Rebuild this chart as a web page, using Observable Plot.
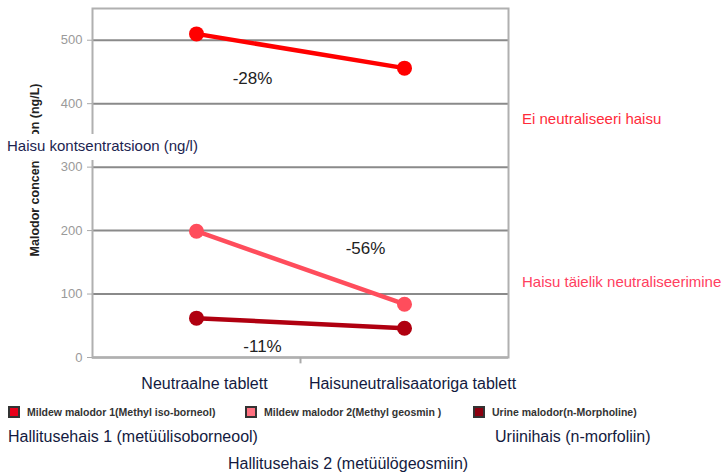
<!DOCTYPE html>
<html>
<head>
<meta charset="utf-8">
<script src="https://cdn.jsdelivr.net/npm/d3@7"></script>
<script src="https://cdn.jsdelivr.net/npm/@observablehq/plot@0.6"></script>
<style>
  html, body { margin: 0; padding: 0; background: #fff; }
  #wrap { position: relative; width: 724px; height: 476px; font-family: "Liberation Sans", Arial, sans-serif; overflow: hidden; }
  #chart { position: absolute; left: 0; top: 0; }
  .abs { position: absolute; white-space: nowrap; }
  .ylab { font-weight: bold; font-size: 12.5px; color: #222; transform-origin: center; transform: translate(-50%, -50%) rotate(-90deg); }
  .cover { background: #fff; font-size: 15px; color: #1c2450; padding: 3px 4px 6px 3px; }
  .side { font-size: 15px; }
  .leg { font-size: 10.5px; font-weight: bold; color: #333; display: flex; align-items: center; }
  .sw { width: 12px; height: 12px; border: 2px solid #333; margin-right: 7px; box-sizing: border-box; }
  .note { font-size: 16px; color: #131a40; }
</style>
</head>
<body>
<div id="wrap">
  <div id="chart"></div>
</div>
<script>
const categories = ["Neutraalne tablett", "Haisuneutralisaatoriga tablett"];
const seriesNames = ["Mildew malodor 1(Methyl iso-borneol)", "Mildew malodor 2(Methyl geosmin )", "Urine malodor(n-Morpholine)"];
const mildew1 = [510, 456];
const mildew2 = [199, 84];
const urine = [62, 46];
const seriesColors = ["#ff0000", "#ff4d5c", "#b00010"];
const legendColors = ["#e8001a", "#ff7080", "#8c0010"];
const yTicks = [0, 100, 200, 300, 400, 500];
const changeLabels = ["-28%", "-56%", "-11%"];
const changeAt = [440, 172, 17];
const changeCat = [categories[0], categories[1], categories[0]];
const yTitle = "Malodor concentration (ng/L)";
const yTitleEt = "Haisu kontsentratsioon (ng/l)";
const sideLabels = ["Ei neutraliseeri haisu", "Haisu täielik neutraliseerimine"];
const noteLabels = ["Hallitusehais 1 (metüülisoborneool)", "Uriinihais (n-morfoliin)", "Hallitusehais 2 (metüülögeosmiin)"];

const values = [mildew1, mildew2, urine];
const rows = [];
seriesNames.forEach((s, si) => categories.forEach((c, ci) => rows.push({series: s, category: c, value: values[si][ci]})));

const ann = changeLabels.map((t, i) => ({text: t, category: changeCat[i], value: changeAt[i]}));

const chart = Plot.plot({
  width: 724,
  height: 395,
  marginLeft: 92,
  marginRight: 216,
  marginTop: 8,
  marginBottom: 38,
  style: {fontFamily: "Liberation Sans, Arial, sans-serif", background: "transparent"},
  x: {type: "band", domain: categories, padding: 0},
  y: {domain: [0, 550]},
  color: {domain: seriesNames, range: seriesColors},
  marks: [
    Plot.gridY(yTicks, {stroke: "#8a8a8a", strokeWidth: 2, strokeOpacity: 1}),
    Plot.frame({stroke: "#b0b0b0", strokeWidth: 2}),
    Plot.ruleX([categories[1]], {y1: 0, y2: -10, dx: -104, stroke: "#aaa", strokeWidth: 2}),
    Plot.axisY(yTicks, {tickSize: 5, tickPadding: 5, stroke: "#aaa", fill: "#9a9a9a", fontSize: 13, label: null}),
    Plot.axisX({tickSize: 0, tickPadding: 20, fill: "#131a40", fontSize: 16, label: null, dx: 8}),
    Plot.line(rows, {x: "category", y: "value", z: "series", stroke: "series", strokeWidth: 4.5}),
    Plot.dot(rows, {x: "category", y: "value", fill: "series", r: 7.5}),
    Plot.text([ann[0]], {x: "category", y: "value", text: "text", dx: 56, fontSize: 17, fill: "#222"}),
    Plot.text([ann[1]], {x: "category", y: "value", text: "text", dx: -39, fontSize: 17, fill: "#222"}),
    Plot.text([ann[2]], {x: "category", y: "value", text: "text", dx: 66, fontSize: 17, fill: "#222"})
  ]
});
document.getElementById("chart").appendChild(chart);

const wrap = document.getElementById("wrap");
function add(cls, text, css) {
  const d = document.createElement("div");
  d.className = "abs " + cls;
  d.textContent = text;
  Object.assign(d.style, css);
  wrap.appendChild(d);
  return d;
}
add("ylab", yTitle, {left: "35px", top: "170px"});
add("cover", yTitleEt, {left: "4px", top: "134px"});
add("side", sideLabels[0], {left: "522px", top: "110px", color: "#ff2a3a"});
add("side", sideLabels[1], {left: "522px", top: "273px", color: "#ff4060"});

const legX = [8, 245, 473];
seriesNames.forEach((s, i) => {
  const d = document.createElement("div");
  d.className = "abs leg";
  Object.assign(d.style, {left: legX[i] + "px", top: "406px"});
  const sw = document.createElement("div");
  sw.className = "sw";
  sw.style.background = legendColors[i];
  const t = document.createElement("span");
  t.textContent = s;
  d.appendChild(sw); d.appendChild(t);
  wrap.appendChild(d);
});
add("note", noteLabels[0], {left: "8px", top: "428px"});
add("note", noteLabels[1], {left: "495px", top: "428px"});
add("note", noteLabels[2], {left: "228px", top: "455px"});
</script>
</body>
</html>
